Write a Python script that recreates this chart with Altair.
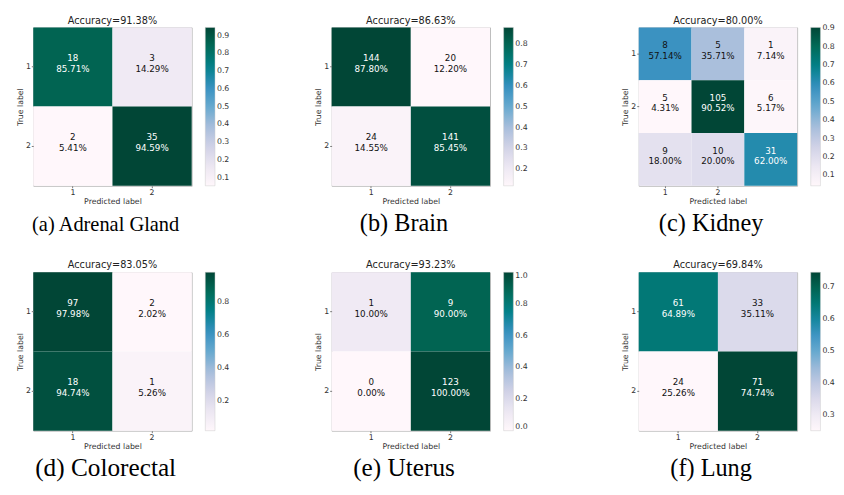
import altair as alt
import pandas as pd

letters = ["a", "b", "c", "d", "e", "f"]
organs = ["Adrenal Gland", "Brain", "Kidney", "Colorectal", "Uterus", "Lung"]
accuracy = ["91.38", "86.63", "80.00", "83.05", "93.23", "69.84"]

counts_a = [[18, 3], [2, 35]]
counts_b = [[144, 20], [24, 141]]
counts_c = [[8, 5, 1], [5, 105, 6], [9, 10, 31]]
counts_d = [[97, 2], [18, 1]]
counts_e = [[1, 9], [0, 123]]
counts_f = [[61, 33], [24, 71]]

pct_a = [[85.71, 14.29], [5.41, 94.59]]
pct_b = [[87.80, 12.20], [14.55, 85.45]]
pct_c = [[57.14, 35.71, 7.14], [4.31, 90.52, 5.17], [18.00, 20.00, 62.00]]
pct_d = [[97.98, 2.02], [94.74, 5.26]]
pct_e = [[10.00, 90.00], [0.00, 100.00]]
pct_f = [[64.89, 35.11], [25.26, 74.74]]

colorbar_ticks = [
    [0.1, 0.2, 0.3, 0.4, 0.5, 0.6, 0.7, 0.8, 0.9],
    [0.2, 0.3, 0.4, 0.5, 0.6, 0.7, 0.8],
    [0.1, 0.2, 0.3, 0.4, 0.5, 0.6, 0.7, 0.8, 0.9],
    [0.2, 0.4, 0.6, 0.8],
    [0.0, 0.2, 0.4, 0.6, 0.8, 1.0],
    [0.3, 0.4, 0.5, 0.6, 0.7],
]

all_counts = [counts_a, counts_b, counts_c, counts_d, counts_e, counts_f]
all_pct = [pct_a, pct_b, pct_c, pct_d, pct_e, pct_f]

# matplotlib PuBuGn colormap stops
PUBUGN = ["#fff7fb", "#ece7f2", "#d0d1e6", "#a6bddb", "#67a9cf",
          "#3690c0", "#02818a", "#016c59", "#014636"]

# caption font sizes (the first caption is set narrower in the source figure)
CAPTION_SIZES = [21, 25, 25, 26, 26, 25]

W = 163
H = 163


def panel(i):
    rows = []
    for r, (crow, prow) in enumerate(zip(all_counts[i], all_pct[i])):
        for c, (n, p) in enumerate(zip(crow, prow)):
            rows.append({"true": str(r + 1), "pred": str(c + 1), "v": p / 100.0,
                         "label": f"{n}\n{p:.2f}%"})
    df = pd.DataFrame(rows)
    lo, hi = float(df.v.min()), float(df.v.max())
    stops = [lo + k * (hi - lo) / (len(PUBUGN) - 1) for k in range(len(PUBUGN))]
    thresh = hi / 1.5
    base = alt.Chart(df).encode(
        x=alt.X("pred:O", axis=alt.Axis(title="Predicted label", labelAngle=0, values=["1", "2"])),
        y=alt.Y("true:O", axis=alt.Axis(title="True label", values=["1", "2"])),
    )
    rect = base.mark_rect().encode(
        color=alt.Color(
            "v:Q",
            scale=alt.Scale(domain=stops, range=PUBUGN, interpolate="rgb"),
            legend=alt.Legend(title=None, values=colorbar_ticks[i], format=".1f",
                              gradientLength=H, gradientThickness=10, offset=14),
        )
    )
    text = base.mark_text(lineBreak="\n", dy=-9, fontSize=9, font="DejaVu Sans").encode(
        text="label:N",
        color=alt.condition(f"datum.v > {thresh}", alt.value("white"), alt.value("#111111")),
    )
    cap_text = f"({letters[i]}) {organs[i]}"
    cap_df = pd.DataFrame({"t": [cap_text]})
    caption = alt.Chart(cap_df).mark_text(
        font="Liberation Serif", fontSize=CAPTION_SIZES[i], baseline="alphabetic", color="black"
    ).encode(text="t:N", x=alt.value(W / 2 - 7), y=alt.value(H + 47))
    return alt.layer(rect, text, caption).properties(
        width=W, height=H,
        title=alt.TitleParams(f"Accuracy={accuracy[i]}%", fontSize=10, fontWeight="normal",
                              font="DejaVu Sans", offset=2, color="#222222"),
    )


def row(a, b, c):
    inner = alt.hconcat(panel(a), panel(b), spacing=86).resolve_scale(color="independent")
    return alt.hconcat(inner, panel(c), spacing=95).resolve_scale(color="independent")


chart = alt.vconcat(row(0, 1, 2), row(3, 4, 5), spacing=23).resolve_scale(color="independent").properties(
    padding={"left": 8, "top": 0, "right": 0, "bottom": 0}
).configure_view(stroke="#bbbbbb").configure_axis(
    domain=False, grid=False, tickColor="#777777", tickSize=2, labelFontSize=8, titleFontSize=8,
    labelFont="DejaVu Sans", titleFont="DejaVu Sans", titleFontWeight="normal",
    labelColor="#333333", titleColor="#333333", labelPadding=1, titlePadding=1,
).configure_legend(
    labelFontSize=8, labelFont="DejaVu Sans", labelColor="#333333", labelOffset=2,
    gradientStrokeColor="#cccccc", gradientStrokeWidth=0.5,
)

chart.save("out.html", embed_options={"renderer": "svg", "actions": False})
